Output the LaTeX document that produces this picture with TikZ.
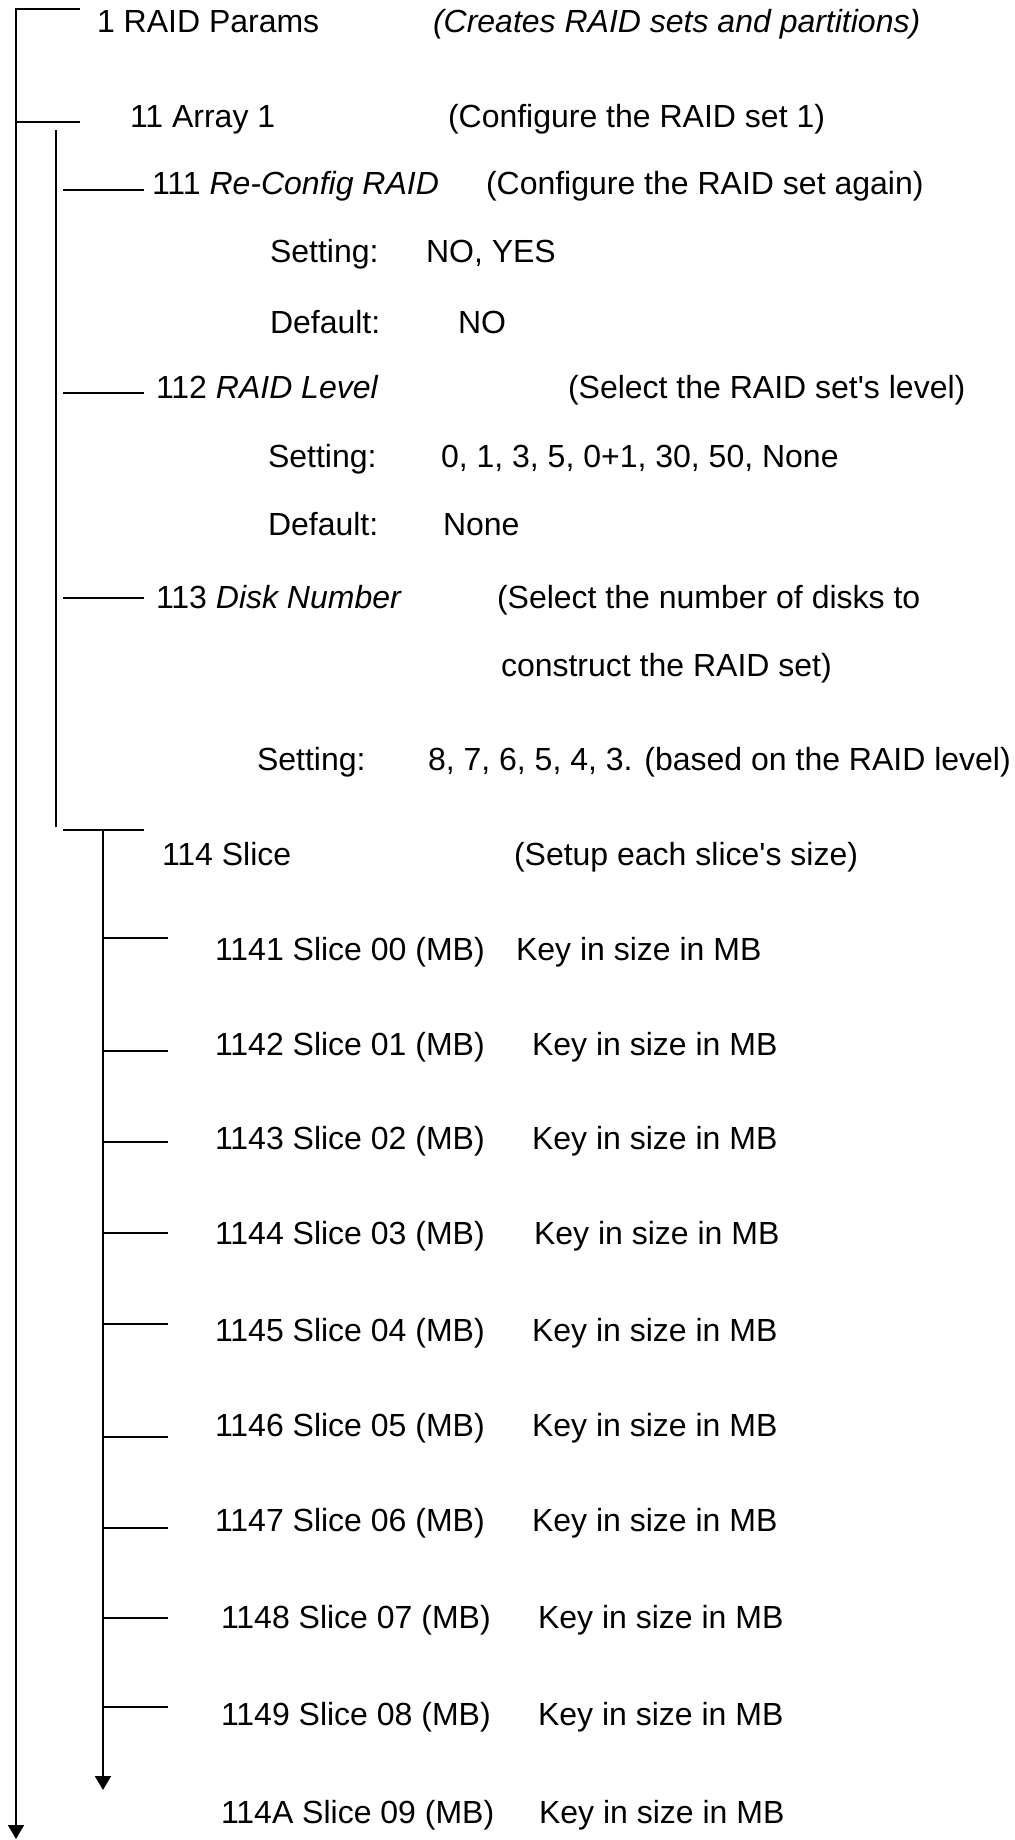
\documentclass[tikz,border=0pt]{standalone}
\usepackage{fontspec}
\setmainfont{Liberation Sans}
\usetikzlibrary{arrows.meta}
\begin{document}
\begin{tikzpicture}[x=1pt,y=-1pt,
  txt/.style={anchor=base west, inner sep=0pt, outer sep=0pt, font=\fontsize{32}{38}\selectfont},
  conn/.style={line width=1.8pt, line join=miter},
  arr/.style={conn, -{Triangle[width=16pt,length=14pt]}}]
\fill[white] (0,0) rectangle (1015,1840);
\useasboundingbox (0,0) rectangle (1015,1840);

% level 1
\node[txt] (n1) at (97,32) {1 RAID Params};
\node[txt] (d1) at (433,32) {\itshape (Creates RAID sets and partitions)};
% level 11
\node[txt] (n11) at (130,127) {11 Array 1};
\node[txt] (d11) at (448,127) {(Configure the RAID set 1)};
% 111
\node[txt] (n111) at (152,194) {111 \textit{Re-Config RAID}};
\node[txt] (d111) at (486,194) {(Configure the RAID set again)};
\node[txt] (s111) at (270,262) {Setting:};
\node[txt] (v111) at (426,262) {NO, YES};
\node[txt] (f111) at (270,333) {Default:};
\node[txt] (w111) at (458,333) {NO};
% 112
\node[txt] (n112) at (156,398) {112 \textit{RAID Level}};
\node[txt] (d112) at (568,398) {(Select the RAID set\textquotesingle s level)};
\node[txt] (s112) at (268,467) {Setting:};
\node[txt] (v112) at (441,467) {0, 1, 3, 5, 0+1, 30, 50, None};
\node[txt] (f112) at (268,535) {Default:};
\node[txt] (w112) at (443,535) {None};
% 113
\node[txt] (n113) at (156,608) {113 \textit{Disk Number}};
\node[txt] (d113a) at (497,608) {(Select the number of disks to};
\node[txt] (d113b) at (501,676) {construct the RAID set)};
\node[txt] (s113) at (257,770) {Setting:};
\node[txt] (v113) at (428,770) {8, 7, 6, 5, 4, 3. (based on the RAID level)};
% 114
\node[txt] (n114) at (162,865) {114 Slice};
\node[txt] (d114) at (514,865) {(Setup each slice\textquotesingle s size)};

\foreach \num/\sl/\y/\x/\kx in {1141/00/960/215/516, 1142/01/1055/215/532, 1143/02/1149/215/532,
  1144/03/1244/215/534, 1145/04/1341/215/532, 1146/05/1436/215/532, 1147/06/1531/215/532,
  1148/07/1628/221/538, 1149/08/1725/221/538, 114A/09/1823/221/539} {
  \node[txt] (s\num) at (\x,\y) {\num\ Slice \sl\ (MB)};
  \node[txt] (k\num) at (\kx,\y) {Key in size in MB};
}

% tree connectors
\coordinate (r1) at (80,9);
\coordinate (r0) at (16,9);
\coordinate (rEnd) at (16,1839);
\draw[arr] (r1) -- (r0) -- (rEnd);

\coordinate (a0) at (16,122);
\coordinate (a1) at (80,122);
\draw[conn] (a0) -- (a1);

\coordinate (i0) at (56,130);
\coordinate (i1) at (56,827);
\draw[conn] (i0) -- (i1);

\foreach \nm/\y in {111/190, 112/393, 113/598, 114/830} {
  \coordinate (h\nm a) at (63,\y);
  \coordinate (h\nm b) at (144,\y);
  \draw[conn] (h\nm a) -- (h\nm b);
}

\coordinate (sv0) at (103,830);
\coordinate (sv1) at (103,1790);
\draw[arr] (sv0) -- (sv1);

\foreach \nm/\y in {1141/938, 1142/1051, 1143/1142, 1144/1233, 1145/1324, 1146/1437, 1147/1528, 1148/1618, 1149/1707} {
  \coordinate (b\nm) at (103,\y);
  \coordinate (e\nm) at (168,\y);
  \draw[conn] (b\nm) -- (e\nm);
}
\end{tikzpicture}
\end{document}
